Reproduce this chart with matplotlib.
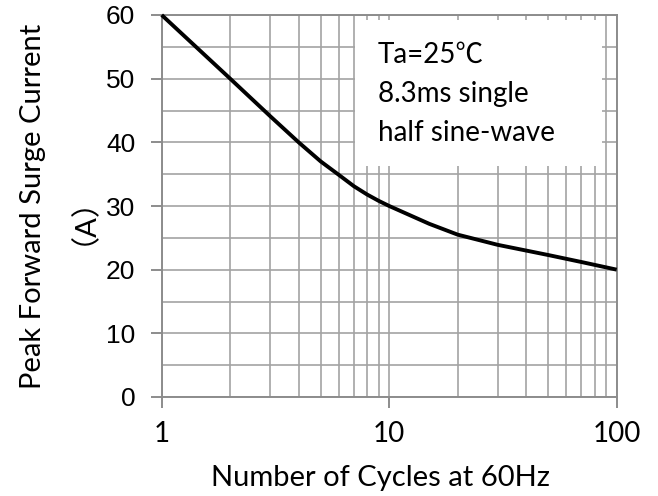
import matplotlib
matplotlib.use("Agg")
import matplotlib.pyplot as plt
from matplotlib.patches import Rectangle
from matplotlib.ticker import FixedLocator, NullFormatter

# curve
cycles = [1, 2, 3, 4, 5, 6, 7, 8, 9, 10, 15, 20, 30, 40, 50, 70, 100]
current = [60, 50.0, 44.1, 40, 37.0, 34.9, 33.1, 31.8, 30.8, 30.0, 27.2,
           25.5, 23.9, 23.0, 22.3, 21.2, 20]

x_ticks = [1, 10, 100]
x_tick_labels = ["1", "10", "100"]
y_ticks = [0, 10, 20, 30, 40, 50, 60]
note_lines = ["Ta=25\u2103", "8.3ms single", "half sine-wave"]

grid_col = "#a3a3a3"
W, H = 658, 496

fig = plt.figure(figsize=(6.58, 4.96), dpi=100)
ax = fig.add_axes([161.7 / W, 1 - 397 / H, 455 / W, 382 / H])

ax.set_xscale("log")
ax.set_xlim(1, 100)
ax.set_ylim(0, 60)

# grid: every minor decade line and every 5 A
ax.xaxis.set_major_locator(FixedLocator(x_ticks))
ax.xaxis.set_minor_locator(FixedLocator([k * d for d in (1, 10) for k in range(2, 10)]))
ax.xaxis.set_minor_formatter(NullFormatter())
ax.yaxis.set_major_locator(FixedLocator(y_ticks))
ax.yaxis.set_minor_locator(FixedLocator(range(5, 60, 10)))
ax.grid(True, which="both", color=grid_col, linewidth=1.2, zorder=0)
ax.set_axisbelow(True)

for s in ax.spines.values():
    s.set_color("#8c8c8c")
    s.set_linewidth(1.4)

ax.tick_params(which="major", direction="out", length=8, width=1.4, color="#8c8c8c")
ax.tick_params(which="minor", length=0)
ax.tick_params(axis="x", pad=9)
ax.tick_params(axis="y", pad=11)
ax.set_xticklabels(x_tick_labels, fontfamily="Lato", fontsize=20)
ax.set_yticklabels([str(v) for v in y_ticks], fontfamily="Liberation Sans", fontsize=19)

# white panel behind the note
ax.add_patch(Rectangle((0.425, 0.605), 0.967 - 0.425, 0.382, transform=ax.transAxes,
                       facecolor="white", edgecolor="none", zorder=1))

ax.plot(cycles, current, color="black", linewidth=2.8, zorder=3, clip_on=False,
        solid_capstyle="butt")

for i, line in enumerate(note_lines):
    ax.text(0.475, 0.895 - i * 0.102, line, transform=ax.transAxes,
            fontsize=20, family=["Lato", "Noto Sans CJK SC"],
            ha="left", va="center", zorder=4)

fig.text(380 / W, 1 - 478 / H, "Number of Cycles at 60Hz", fontsize=21,
         fontfamily="Lato", ha="center", va="center")
fig.text(51 / W, 1 - 206 / H, "Peak Forward Surge Current\n\uff08A\uff09", fontsize=21,
         family=["Lato", "Noto Sans CJK SC"], rotation=90, linespacing=1.4,
         ha="center", va="center", multialignment="center")

fig.savefig("out.png", dpi=100)
